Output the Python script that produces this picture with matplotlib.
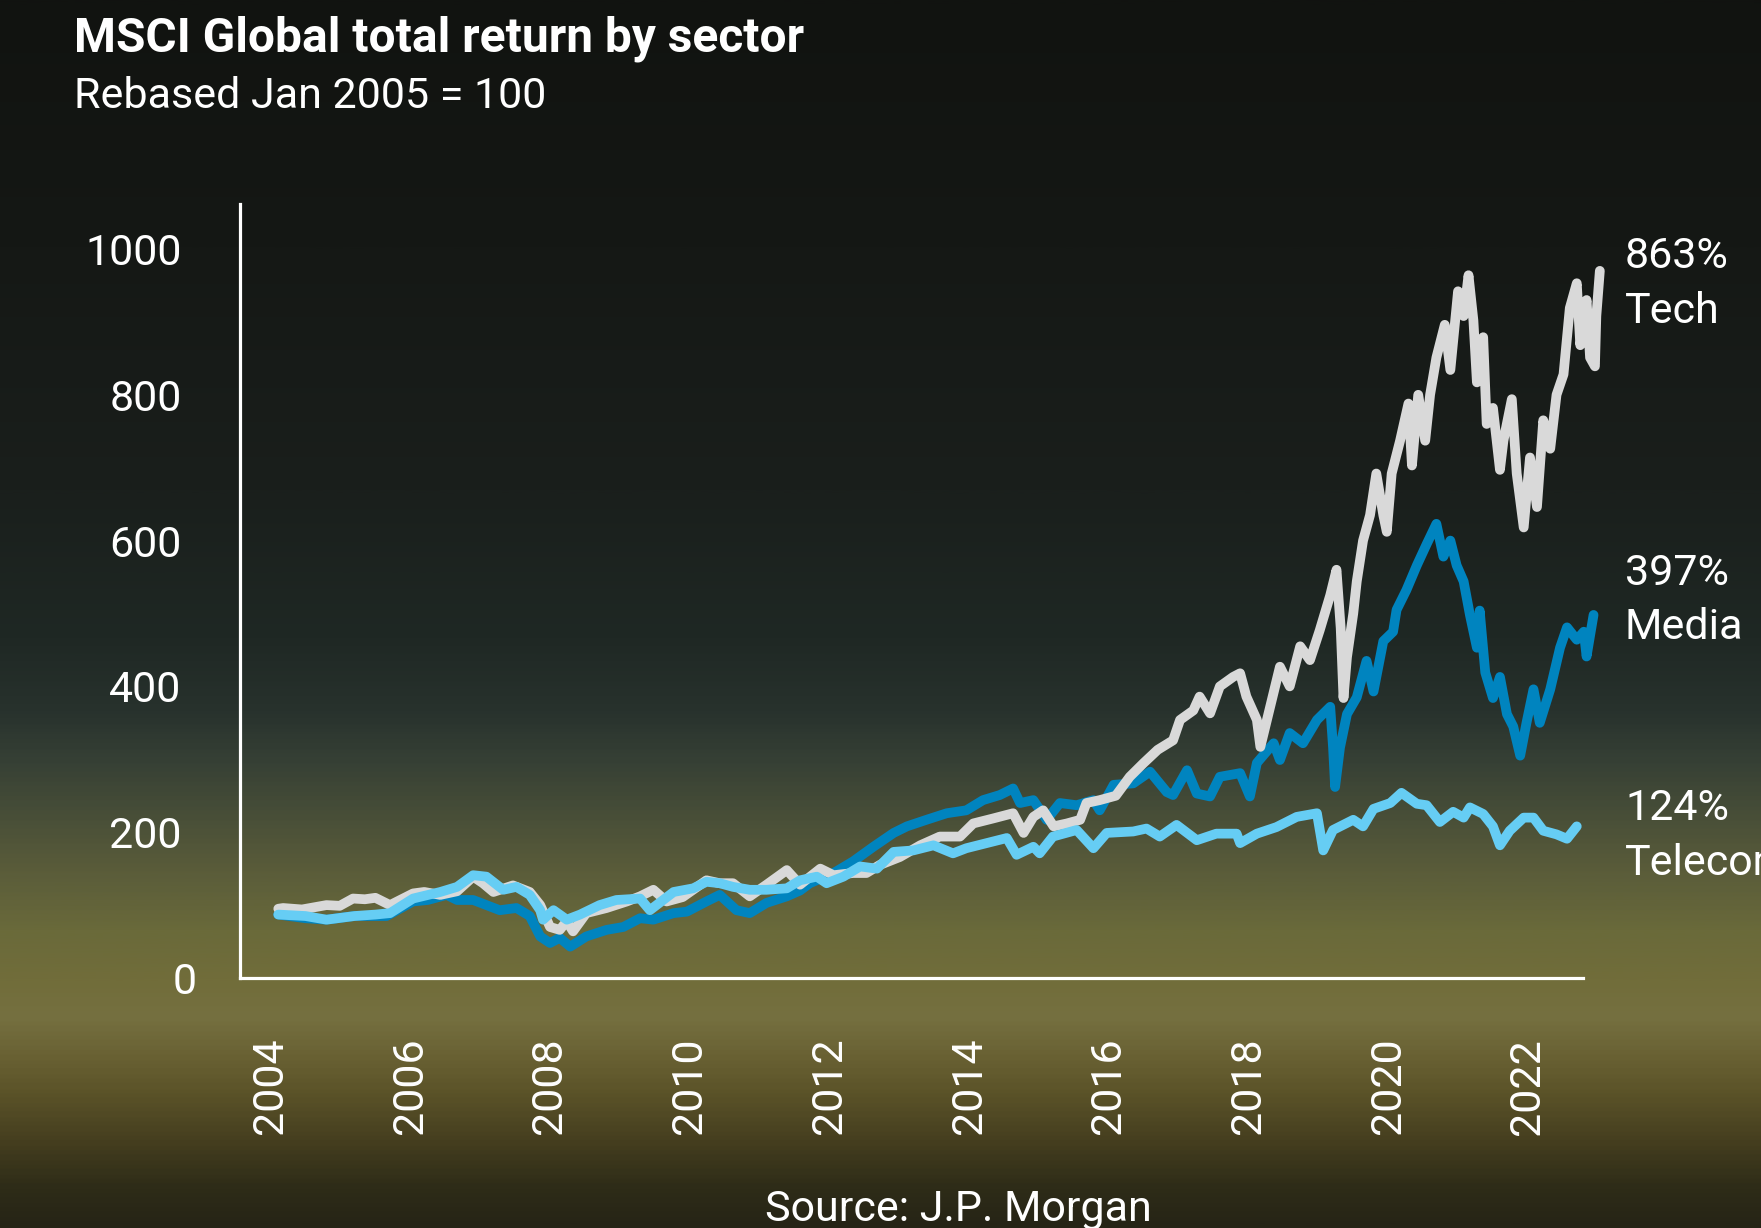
import matplotlib
matplotlib.use("Agg")
import matplotlib.pyplot as plt
import numpy as np
from matplotlib.colors import LinearSegmentedColormap
from matplotlib.transforms import ScaledTranslation

# ---------------- data (decimal years, index rebased) ----------------
tech_x = [2004.11, 2004.18, 2004.45, 2004.8, 2004.99, 2005.18, 2005.35, 2005.5, 2005.71, 2006.04,
          2006.2, 2006.43, 2006.67, 2006.90, 2007.04, 2007.19, 2007.47, 2007.71, 2007.86, 2008.0,
          2008.14, 2008.24, 2008.33, 2008.52, 2008.81, 2009.1, 2009.29, 2009.48, 2009.67, 2009.9,
          2010.24, 2010.43, 2010.62, 2010.86, 2011.1, 2011.39, 2011.58, 2011.87, 2012.06, 2012.34,
          2012.53, 2012.72, 2013.01, 2013.3, 2013.58, 2013.87, 2014.06, 2014.35, 2014.63, 2014.78,
          2014.92, 2015.06, 2015.21, 2015.4, 2015.59, 2015.68, 2015.87, 2016.1, 2016.3, 2016.5,
          2016.7, 2016.92, 2017.02, 2017.21, 2017.3, 2017.45, 2017.59, 2017.78, 2017.88, 2017.97,
          2018.12, 2018.17, 2018.31, 2018.45, 2018.59, 2018.74, 2018.88, 2019.02, 2019.17, 2019.26,
          2019.32, 2019.36, 2019.41, 2019.5, 2019.55, 2019.64, 2019.74, 2019.83, 2019.93, 2019.98,
          2020.05, 2020.17, 2020.29, 2020.34, 2020.43, 2020.53, 2020.6, 2020.69, 2020.81, 2020.89,
          2021.0, 2021.08, 2021.15, 2021.22, 2021.27, 2021.36, 2021.41, 2021.5, 2021.6, 2021.65,
          2021.77, 2021.84, 2021.94, 2022.03, 2022.13, 2022.22, 2022.32, 2022.41, 2022.51, 2022.6,
          2022.7, 2022.75, 2022.84, 2022.89, 2022.96, 2022.98, 2023.03]
tech_y = [95, 96, 94, 100, 99, 109, 108, 110, 100, 116,
          118, 114, 119, 139, 130, 118, 127, 118, 100, 70,
          66, 78, 64, 89, 96, 105, 112, 121, 105, 111,
          134, 130, 130, 112, 128, 148, 128, 150, 141, 144,
          144, 155, 166, 182, 194, 194, 212, 219, 226, 199,
          221, 230, 208, 212, 217, 240, 244, 250, 276, 295,
          313, 326, 354, 367, 386, 363, 400, 413, 418, 386,
          354, 317, 372, 427, 400, 455, 436, 477, 525, 560,
          480, 384, 440, 500, 544, 600, 635, 692, 635, 612,
          692, 737, 788, 703, 800, 737, 800, 851, 896, 834,
          942, 908, 964, 902, 817, 879, 760, 782, 697, 737,
          794, 692, 618, 714, 646, 765, 726, 800, 828, 919,
          953, 868, 930, 851, 839, 908, 970]

media_x = [2004.11, 2004.5, 2004.8, 2005.2, 2005.66, 2006.04, 2006.25, 2006.52, 2006.67, 2006.9,
           2007.09, 2007.28, 2007.52, 2007.71, 2007.86, 2008.0, 2008.14, 2008.29, 2008.52, 2008.81,
           2009.05, 2009.29, 2009.48, 2009.77, 2009.96, 2010.24, 2010.43, 2010.67, 2010.86, 2011.1,
           2011.39, 2011.58, 2011.72, 2012.06, 2012.34, 2012.63, 2012.92, 2013.11, 2013.39, 2013.68,
           2013.96, 2014.2, 2014.44, 2014.63, 2014.73, 2014.92, 2015.11, 2015.3, 2015.54, 2015.78,
           2015.87, 2016.07, 2016.35, 2016.59, 2016.83, 2016.92, 2017.12, 2017.26, 2017.45, 2017.59,
           2017.88, 2018.02, 2018.12, 2018.36, 2018.45, 2018.59, 2018.78, 2018.98, 2019.17, 2019.21,
           2019.24, 2019.31, 2019.41, 2019.55, 2019.69, 2019.79, 2019.93, 2020.07, 2020.12, 2020.26,
           2020.41, 2020.55, 2020.69, 2020.79, 2020.89, 2020.98, 2021.08, 2021.17, 2021.27, 2021.31,
           2021.39, 2021.5, 2021.6, 2021.7, 2021.79, 2021.89, 2021.98, 2022.08, 2022.17, 2022.32,
           2022.46, 2022.56, 2022.7, 2022.8, 2022.84, 2022.94]
media_y = [87, 82, 80, 85, 85, 105, 107, 114, 107, 107,
           100, 93, 96, 85, 57, 48, 55, 43, 57, 66,
           70, 82, 80, 89, 91, 105, 114, 93, 89, 103,
           112, 120, 130, 144, 160, 180, 199, 208, 217, 226,
           230, 244, 251, 260, 240, 244, 217, 240, 237, 244,
           230, 265, 267, 283, 255, 251, 285, 253, 249, 276,
           281, 249, 295, 322, 299, 336, 322, 354, 372, 317,
           262, 316, 362, 385, 435, 393, 462, 475, 505, 532,
           566, 595, 623, 578, 600, 566, 544, 498, 453, 504,
           419, 384, 413, 362, 345, 305, 350, 396, 350, 396,
           453, 481, 464, 475, 441, 498]

telecom_x = [2004.11, 2004.5, 2004.8, 2005.2, 2005.5, 2005.71, 2006.04, 2006.43, 2006.67, 2006.90,
             2007.09, 2007.33, 2007.52, 2007.71, 2007.86, 2007.9, 2008.05, 2008.24, 2008.43, 2008.71,
             2008.95, 2009.29, 2009.43, 2009.77, 2010.05, 2010.24, 2010.43, 2010.62, 2010.86, 2011.1,
             2011.39, 2011.58, 2011.82, 2011.96, 2012.2, 2012.44, 2012.68, 2012.92, 2013.2, 2013.49,
             2013.77, 2013.96, 2014.25, 2014.54, 2014.68, 2014.92, 2015.01, 2015.2, 2015.54, 2015.78,
             2015.97, 2016.35, 2016.54, 2016.73, 2016.97, 2017.26, 2017.54, 2017.83, 2017.88, 2018.12,
             2018.4, 2018.69, 2018.98, 2019.07, 2019.21, 2019.5, 2019.64, 2019.79, 2020.03, 2020.19,
             2020.41, 2020.55, 2020.74, 2020.93, 2021.08, 2021.17, 2021.36, 2021.5, 2021.6, 2021.74,
             2021.94, 2022.08, 2022.22, 2022.41, 2022.56, 2022.7]
telecom_y = [87, 85, 80, 85, 87, 89, 109, 118, 125, 141,
             139, 121, 125, 114, 93, 80, 93, 80, 87, 100,
             107, 109, 93, 118, 123, 132, 130, 125, 121, 121,
             123, 134, 139, 130, 139, 153, 150, 173, 175, 182,
             171, 178, 185, 192, 169, 180, 171, 194, 203, 178,
             199, 201, 205, 194, 210, 189, 198, 198, 185, 198,
             207, 221, 226, 175, 203, 217, 208, 232, 240, 254,
             239, 237, 214, 228, 220, 234, 225, 208, 182, 202,
             220, 220, 202, 197, 191, 208]

series_names = ["Tech", "Media", "Telecom"]
series_returns = ["863%", "397%", "124%"]
label_y = [952, 518, 195]

year_ticks = [2004, 2006, 2008, 2010, 2012, 2014, 2016, 2018, 2020, 2022]
value_ticks = [0, 200, 400, 600, 800, 1000]

# ---------------- styling ----------------
FONT = ["Roboto", "DejaVu Sans"]
plt.rcParams["font.family"] = FONT
WHITE = "#ffffff"
C_TECH = "#d9d9d9"
C_MEDIA = "#0084bf"
C_TEL = "#66cdf4"

W, H = 1761, 1228
fig = plt.figure(figsize=(W / 100, H / 100), dpi=100)

# background gradient
stops = [(0.00, "#111310"), (0.20, "#151815"), (0.40, "#1a1f1c"), (0.52, "#1f2824"),
         (0.58, "#28322d"), (0.62, "#364035"), (0.67, "#4a5038"), (0.71, "#5a5c3a"),
         (0.76, "#6a6a3a"), (0.80, "#716d3a"), (0.83, "#757040"), (0.86, "#6a6234"),
         (0.89, "#5c5429"), (0.93, "#463f1f"), (0.97, "#2e2c18"), (1.00, "#262416")]
cmap = LinearSegmentedColormap.from_list("bg", stops)
bg = fig.add_axes([0, 0, 1, 1], zorder=-10)
grad = np.linspace(0, 1, 600).reshape(-1, 1)
bg.imshow(grad, aspect="auto", cmap=cmap, extent=[0, 1, 0, 1], origin="upper", vmin=0, vmax=1)
bg.set_axis_off()

# main axes (pixel geometry)
x0, x1, yb, yt = 240, 1583, 978, 204
ax = fig.add_axes([x0 / W, 1 - yb / H, (x1 - x0) / W, (yb - yt) / H])
ax.set_facecolor("none")

lw = 7.0
ax.plot(media_x, media_y, color=C_MEDIA, lw=lw, solid_joinstyle="round",
        solid_capstyle="round", clip_on=False, zorder=2)
ax.plot(tech_x, tech_y, color=C_TECH, lw=lw, solid_joinstyle="round",
        solid_capstyle="round", clip_on=False, zorder=3)
ax.plot(telecom_x, telecom_y, color=C_TEL, lw=lw, solid_joinstyle="round",
        solid_capstyle="round", clip_on=False, zorder=4)

ax.set_xlim(2003.562, 2022.789)
ax.set_ylim(0, 1061.7)
for s in ["top", "right"]:
    ax.spines[s].set_visible(False)
for s in ["left", "bottom"]:
    ax.spines[s].set_color(WHITE)
    ax.spines[s].set_linewidth(2.3)

ax.set_xticks(year_ticks)
ax.set_xticklabels([str(y) for y in year_ticks], rotation=90)
ax.set_yticks(value_ticks)
ax.set_yticklabels([str(v) for v in value_ticks])
ax.tick_params(axis="x", length=0, pad=43, labelsize=31, labelcolor=WHITE)
ax.tick_params(axis="y", length=0, pad=42, labelsize=31, labelcolor=WHITE)
# zero label sits closer to the axis
zl = ax.get_yticklabels()[0]
zl.set_transform(zl.get_transform() + ScaledTranslation(15 / 100, 0, fig.dpi_scale_trans))

# end labels
for name, ret, yv in zip(series_names, series_returns, label_y):
    ax.text(2023.39, yv, f"{ret}\n{name}", color=WHITE, fontsize=31, va="center", ha="left",
            linespacing=1.42, clip_on=False)

# titles
fig.text(74 / W, 1 - 52 / H, "MSCI Global total return by sector", color=WHITE,
         fontsize=34.5, fontweight="bold", ha="left", va="baseline")
fig.text(74 / W, 1 - 108 / H, "Rebased Jan 2005 = 100", color=WHITE,
         fontsize=31, ha="left", va="baseline")
fig.text(958 / W, 1 - 1221 / H, "Source: J.P. Morgan", color=WHITE,
         fontsize=31, ha="center", va="baseline")

fig.savefig("out.png", dpi=100)
